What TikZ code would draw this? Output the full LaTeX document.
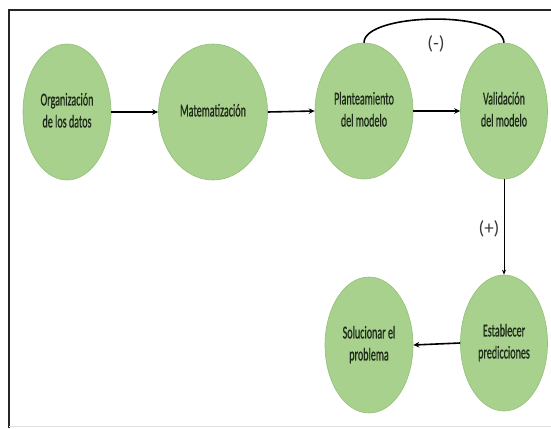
\documentclass[tikz,border=0pt]{standalone}
\usepackage{fontspec}
\setmainfont{Carlito}
\newfontfamily\heavyfont[FakeBold=1.2]{Carlito}
\usetikzlibrary{shapes.geometric,arrows.meta}
\definecolor{nodefill}{HTML}{A9D18E}
\definecolor{nodeline}{HTML}{93BF78}
\definecolor{txtc}{HTML}{1E2A1A}
\definecolor{labc}{HTML}{3A3A3A}
\newcommand\sqz[1]{\scalebox{0.56}[1]{\begin{tabular}{@{}c@{}}#1\end{tabular}}}
\tikzset{
  stage/.style={ellipse, fill=nodefill, draw=nodeline, line width=0.6pt, inner sep=0pt,
    minimum height=136pt, text=txtc, font=\heavyfont\fontsize{18}{22}\selectfont},
  thickarrow/.style={line width=1.6pt, -{Stealth[length=6pt,width=5.5pt]}},
  thinarrow/.style={line width=0.8pt, -{Stealth[length=5pt,width=4pt]}},
  lab/.style={text=labc, font=\fontsize{19}{22}\selectfont, inner sep=0pt}
}
\begin{document}
\begin{tikzpicture}[x=1pt,y=-1pt]
\useasboundingbox (0,0) rectangle (551,428);
\fill[white] (0,0) rectangle (551,428);
% frame
\draw[line width=1.3pt, black!85] (551,10) -- (9,10) -- (9,428);
\draw[line width=0.8pt, black!12] (9,426) -- (551,426);
% nodes
\node[stage, minimum width=88pt]  (org) at (67,112)  {\sqz{Organización\\de los datos}};
\node[stage, minimum width=109pt] (mat) at (213,112) {\sqz{Matematización}};
\node[stage, minimum width=98pt]  (pla) at (364,111) {\sqz{Planteamiento\\del modelo}};
\node[stage, minimum width=87pt]  (val) at (504,111) {\sqz{Validación\\del modelo}};
\node[stage, minimum width=87pt]  (est) at (504,343) {\sqz{Establecer\\predicciones}};
\node[stage, minimum width=88pt]  (sol) at (369,345) {\sqz{Solucionar el\\problema}};
% connectors
\draw[thickarrow] (org.east) -- (mat.west);
\draw[thickarrow] (mat.east) -- (pla.west);
\draw[thickarrow] (pla.east) -- (val.west);
\draw[line width=1.6pt] (pla.north) .. controls +(0,-30) and +(-2,-33) .. (val.north);
\draw[thinarrow] (val.south) -- (est.north);
\draw[thickarrow] (est.west) -- (sol.east);
% labels
\node[lab] (minus) at (436,44) {(-)};
\node[lab] (plus) at (489,229) {(+)};
\end{tikzpicture}
\end{document}
